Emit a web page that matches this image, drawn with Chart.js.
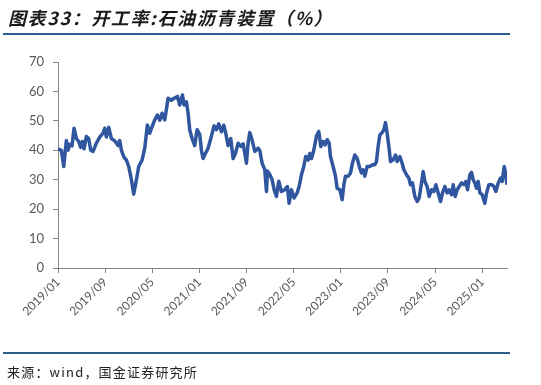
<!DOCTYPE html>
<html>
<head>
<meta charset="utf-8">
<script src="https://cdn.jsdelivr.net/npm/chart.js@4"></script>
<style>
  html, body { margin: 0; padding: 0; background: #fff; }
  #wrap { position: relative; width: 541px; height: 385px; overflow: hidden; }
  #wrap canvas { position: absolute; left: 0; top: 0; }
  .title {
    position: absolute; left: 8px; top: 4px;
    font: italic bold 18px "Noto Sans CJK SC", sans-serif; letter-spacing: 1.6px;
    color: #1a1a1a; white-space: nowrap; z-index: 2;
  }
  .rule { position: absolute; left: 3px; width: 507px; height: 2px; background: #2a5d8a; z-index: 2; }
  .source {
    position: absolute; left: 7px; top: 362px;
    font: 13px "Noto Sans CJK SC", sans-serif; letter-spacing: 1.2px; color: #222; white-space: nowrap; z-index: 2;
  }
</style>
</head>
<body>
<div id="wrap">
  <div class="title">图表33：开工率:石油沥青装置（%）</div>
  <div class="rule" style="top:33px"></div>
  <canvas id="chartAsphalt" width="541" height="385"></canvas>
  <div class="rule" style="top:352px"></div>
  <div class="source">来源：wind，国金证券研究所</div>
</div>
<script>
(function () {
  'use strict';

  // months since 2019/01
  var months = [
    0.00, 0.57, 0.97, 1.42, 1.70, 1.99, 2.38, 2.72, 3.12, 3.51, 3.85, 4.14, 4.42, 4.82, 5.21, 5.55,
    5.95, 6.51, 7.08, 7.65, 7.93, 8.21, 8.61, 9.06, 9.63, 10.19, 10.48, 10.76, 11.21, 11.61, 12.00,
    12.46, 12.85, 13.31, 13.70, 14.27, 14.72, 15.17, 15.57, 15.96, 16.42, 16.87, 17.27, 17.66, 18.12,
    18.68, 19.25, 19.70, 20.27, 20.66, 21.12, 21.40, 21.79, 22.08, 22.36, 22.76, 23.21, 23.60, 24.06,
    24.34, 24.62, 25.02, 25.47, 25.93, 26.49, 26.89, 27.28, 27.74, 28.13, 28.47, 28.87, 29.32, 29.72,
    30.11, 30.57, 31.02, 31.41, 31.70, 31.98, 32.26, 32.55, 32.94, 33.40, 33.96, 34.24, 34.64, 35.09,
    35.38, 35.55, 35.94, 36.34, 36.68, 37.07, 37.47, 37.92, 38.49, 38.94, 39.22, 39.62, 40.07,
    40.58, 40.92, 41.32, 41.71, 42.05, 42.45, 42.73, 43.02, 43.41, 43.87, 44.26, 44.60, 45.00, 45.34,
    45.68, 46.02, 46.24, 46.69, 47.09, 47.37, 47.83, 48.22, 48.51, 48.79, 49.24, 49.64, 49.98, 50.37,
    50.77, 51.22, 51.51, 51.79, 52.07, 52.47, 52.92, 53.37, 53.77, 54.05, 54.33, 54.62, 55.01, 55.30,
    55.58, 55.86, 56.15, 56.43, 56.88, 57.28, 57.56, 58.01, 58.41, 58.69, 59.15, 59.54, 59.82, 60.16,
    60.56, 60.96, 61.30, 61.69, 61.97, 62.26, 62.65, 62.99, 63.39, 63.79, 64.13, 64.52, 64.92, 65.26,
    65.65, 66.05, 66.39, 66.79, 67.07, 67.41, 67.75, 68.09, 68.48, 68.88, 69.22, 69.50, 69.90, 70.18,
    70.46, 70.75, 71.03, 71.31, 71.60, 71.99, 72.44, 72.73, 73.12, 73.58, 73.97, 74.31, 74.71, 75.11,
    75.39, 75.73, 75.95, 76.20
  ];

  // 开工率 (%)
  var rate = [
    40.5, 40.0, 34.5, 43.3, 40.0, 42.0, 41.5, 47.5, 44.0, 43.0, 41.0, 43.0, 40.5, 44.7, 44.0, 40.0,
    39.6, 42.4, 44.5, 45.8, 47.5, 44.5, 47.8, 44.0, 43.2, 41.6, 43.3, 40.0, 37.6, 36.7, 34.5,
    30.0, 25.1, 30.0, 34.5, 36.7, 40.7, 48.6, 45.8, 48.0, 50.3, 52.0, 50.2, 52.6, 50.3,
    57.7, 57.0, 57.7, 58.3, 55.4, 58.8, 55.4, 56.5, 52.6, 46.9, 44.0, 41.6, 47.0, 45.3,
    40.0, 37.2, 38.9, 40.7, 44.0, 48.3, 47.0, 49.0, 46.3, 48.5, 45.8, 41.6, 44.0, 37.2,
    38.9, 42.4, 41.3, 42.2, 38.9, 35.6, 42.4, 46.0, 43.5, 39.6, 40.7, 40.0, 35.6, 33.4,
    26.0, 33.0, 31.8, 30.0, 26.6, 24.3, 29.5, 26.0, 26.6, 27.7, 22.0, 26.6, 23.8,
    25.5, 27.7, 31.7, 34.5, 37.9, 36.7, 38.9, 37.2, 40.0, 44.9, 46.4, 41.3, 43.0, 41.8,
    43.6, 42.4, 37.9, 34.5, 31.2, 27.1, 26.6, 23.2, 28.3, 31.2, 31.2, 32.3, 35.7, 38.4,
    37.2, 33.9, 32.3, 33.4, 31.2, 34.5, 34.5, 35.1, 35.1, 36.2, 41.3, 45.2, 46.0, 46.9,
    49.4, 45.8, 41.3, 36.2, 36.8, 38.4, 36.2, 37.9, 35.6, 33.4, 31.7, 30.6, 28.3, 28.9,
    24.3, 22.6, 23.8, 28.9, 32.8, 29.4, 27.7, 24.3, 26.6, 26.0, 28.3, 25.5, 22.6, 25.5,
    27.7, 25.5, 26.6, 24.9, 28.3, 24.3, 26.6, 27.7, 28.9, 28.3, 29.4, 26.6, 31.7, 32.5,
    30.0, 28.9, 27.1, 29.4, 25.5, 24.9, 22.0, 25.5, 28.3, 28.3, 27.7, 26.0, 28.9, 30.6,
    29.4, 34.5, 32.3, 28.3
  ];

  var tickMonths = [0, 8, 16, 24, 32, 40, 48, 56, 64, 72];
  var tickLabels = ['2019/01', '2019/09', '2020/05', '2021/01', '2021/09', '2022/05', '2023/01', '2023/09', '2024/05', '2025/01'];

  var canvas = document.getElementById('chartAsphalt');
  if (!canvas || !window.Chart) return;

  var points = months.map(function (m, i) {
    return { x: m, y: rate[i] };
  });

  var grey = '#595959';
  var axisLine = '#868686';

  new Chart(canvas.getContext('2d'), {
    type: 'line',
    data: {
      datasets: [
        {
          data: points,
          borderColor: '#2f569f',
          borderWidth: 3.5,
          borderJoinStyle: 'round',
          pointRadius: 0,
          tension: 0,
          fill: false,
        },
      ],
    },
    options: {
      responsive: false,
      animation: false,
      devicePixelRatio: 1,
      layout: { padding: { left: 0, right: 34, top: 62, bottom: 0 } },
      plugins: { legend: { display: false }, tooltip: { enabled: false } },
      scales: {
        x: {
          type: 'linear',
          min: 0,
          max: months[months.length - 1],
          afterFit: function (s) { s.height = 117; },
          afterBuildTicks: function (s) {
            s.ticks = tickMonths.map(function (v) { return { value: v }; });
          },
          grid: { display: true, drawOnChartArea: false, drawTicks: true, tickLength: 5, color: axisLine },
          border: { display: true, color: axisLine, width: 1 },
          ticks: {
            autoSkip: false,
            maxRotation: 45,
            minRotation: 45,
            padding: 2,
            color: grey,
            font: { family: 'Lato, "Open Sans", sans-serif', size: 12 },
            callback: function (v) {
              var i = tickMonths.indexOf(v);
              return i >= 0 ? tickLabels[i] : '';
            },
          },
        },
        y: {
          min: 0,
          max: 70,
          afterFit: function (s) { s.width = 58; },
          grid: { display: true, drawOnChartArea: false, drawTicks: true, tickLength: 5, color: axisLine },
          border: { display: true, color: axisLine, width: 1 },
          ticks: {
            stepSize: 10,
            padding: 9,
            color: grey,
            font: { family: 'Lato, "Open Sans", sans-serif', size: 13 },
          },
        },
      },
    },
  });
})();
</script>
</body>
</html>
